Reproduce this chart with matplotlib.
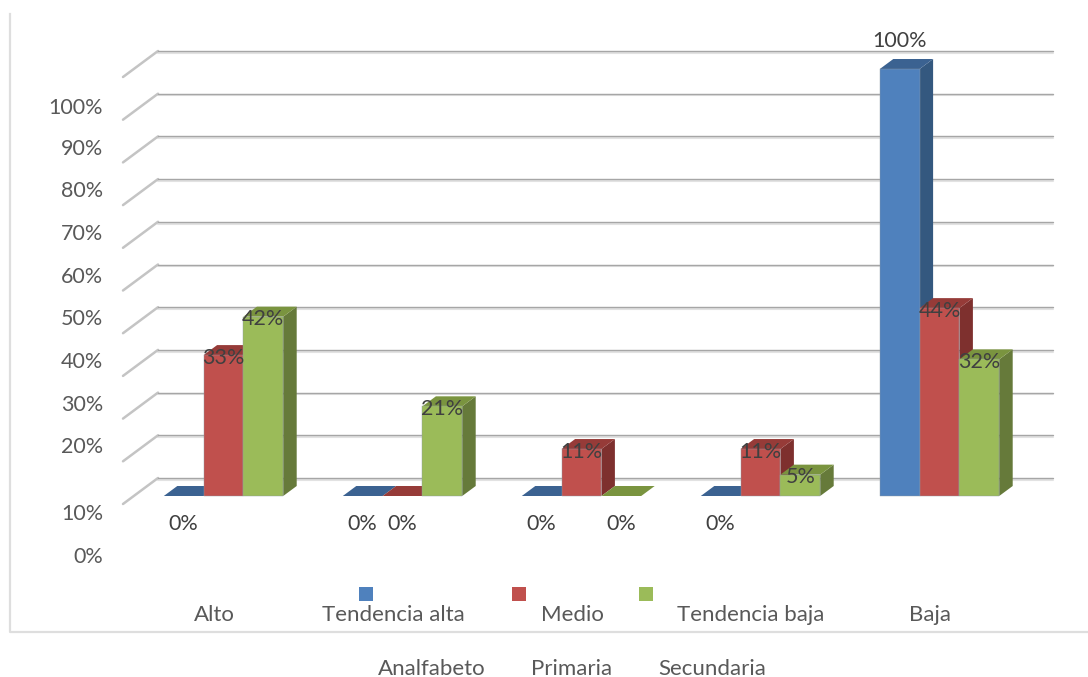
import matplotlib
matplotlib.use("Agg")
import matplotlib.pyplot as plt
from matplotlib.patches import Polygon, Rectangle

categories = ["Alto", "Tendencia alta", "Medio", "Tendencia baja", "Baja"]
series_names = ["Analfabeto", "Primaria", "Secundaria"]
analfabeto = [0, 0, 0, 0, 100]
primaria = [33, 0, 11, 11, 44]
secundaria = [42, 21, 0, 5, 32]
tick_labels = ["100%", "90%", "80%", "70%", "60%", "50%", "40%", "30%", "20%", "10%", "0%"]
grid_values = [0, 10, 20, 30, 40, 50, 60, 70, 80, 90, 100]

# the labels do not line up with the grid in the original, so they get their own rows
tick_rows = [108, 149, 191, 234, 277, 319, 362, 405, 447, 514, 557]

W, H = 1088, 677
PX_PER_PCT = 4.27
PX_PER_CAT = 179.0
BASE_Y = 496
CAT0_X = 223.5
BAR_W = 39.8 / PX_PER_CAT
DX = 13.5 / PX_PER_CAT
DY = 10 / PX_PER_PCT

fronts = ["#4F81BD", "#C0504D", "#9BBB59"]
tops = ["#3B6291", "#963B38", "#7A943F"]
sides = ["#34587F", "#7E302E", "#667A3A"]

plt.rcParams["font.family"] = ["Lato", "DejaVu Sans"]

fig = plt.figure(figsize=(W / 100, H / 100), dpi=100)
ax = fig.add_axes([0, 0, 1, 1])
ax.set_xlim(-CAT0_X / PX_PER_CAT, (W - CAT0_X) / PX_PER_CAT)
ax.set_ylim((BASE_Y - H) / PX_PER_PCT, BASE_Y / PX_PER_PCT)
ax.axis("off")


def xpx(p):
    return (p - CAT0_X) / PX_PER_CAT


def ypx(p):
    return (BASE_Y - p) / PX_PER_PCT


# chart frame
ax.plot([xpx(9.5), xpx(9.5), xpx(1088)], [ypx(14), ypx(632), ypx(632)], color="#DEDEDE", lw=1.6, zorder=1)

# back wall grid and the slanted floor lines
for v in grid_values:
    y = ypx(478) + v * (ypx(51) - ypx(478)) / 100
    ax.plot([xpx(158), xpx(1053)], [y - 0.4, y - 0.4], color="#E2E2E2", lw=1.5, zorder=1, solid_capstyle="round")
    ax.plot([xpx(158), xpx(1053)], [y, y], color="#A6A6A6", lw=1.0, zorder=2, solid_capstyle="round")
    y2 = y - 26 / PX_PER_PCT
    ax.plot([xpx(123), xpx(158)], [y2, y], color="#C4C4C4", lw=1.8, zorder=1, solid_capstyle="round")

# bars, drawn by hand since the 3d look has a front, a side and a lid
for s, vals in enumerate([analfabeto, primaria, secundaria]):
    for c, v in enumerate(vals):
        x0 = c + (s - 1.5) * BAR_W
        x1 = x0 + BAR_W
        z = 3 + s + c * 3
        if v > 0:
            ax.add_patch(Polygon([(x1, 0), (x1 + DX, DY), (x1 + DX, v + DY), (x1, v)], closed=True,
                                 facecolor=sides[s], edgecolor="none", zorder=z))
        ax.add_patch(Polygon([(x0, v), (x1, v), (x1 + DX, v + DY), (x0 + DX, v + DY)], closed=True,
                             facecolor=tops[s], edgecolor="none", zorder=z))
        if v > 0:
            ax.add_patch(Rectangle((x0, 0), BAR_W, v, facecolor=fronts[s], edgecolor="#8E9AA5", lw=0.3, zorder=z + 0.5))
        # value labels
        xc = (x0 + x1) / 2
        if v == 0:
            ly = -6.6
        elif v == 100:
            ly = v + 28 / PX_PER_PCT
        else:
            ly = v - 0.6
        ax.text(xc, ly, "%d%%" % v, ha="center", va="center", fontsize=15.5, color="#404040", zorder=50)

# y labels
for lab, row in zip(tick_labels, tick_rows):
    ax.text(xpx(103), ypx(row), lab, ha="right", va="center", fontsize=15.5, color="#595959")

# category labels
for c, lab in enumerate(categories):
    ax.text(c - 9.5 / PX_PER_CAT, ypx(615), lab, ha="center", va="center", fontsize=16, color="#595959")

# legend: squares and names sit on separate rows like in the original
legend_x = [359, 512, 639]
name_x = [432, 572, 712]
for s, name in enumerate(series_names):
    ax.add_patch(Rectangle((xpx(legend_x[s]), ypx(601)), 14 / PX_PER_CAT, 14 / PX_PER_PCT, facecolor=fronts[s], edgecolor="none"))
    ax.text(xpx(name_x[s]), ypx(669), name, ha="center", va="center", fontsize=16, color="#595959")

fig.savefig("out.png", dpi=100, facecolor="white")
